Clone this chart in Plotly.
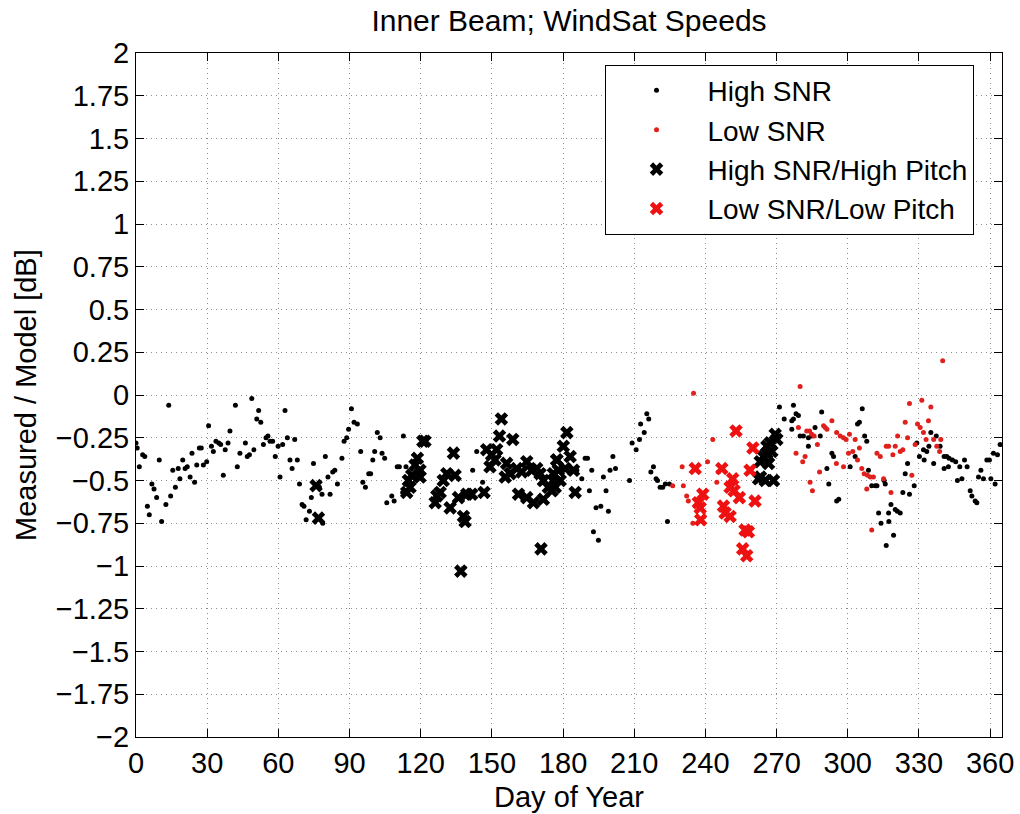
import plotly.graph_objects as go

# ---------------- data ----------------
hs_day = [0, 0.5, 1.4, 2.8, 3.7, 4.8, 5.6, 6.7, 7.6, 8.7, 9.8, 10.8, 12.6, 13.8, 14.6, 15.5, 16.6, 17.8,
          18.5, 19.7, 20.7, 21.6, 22.8, 23.6, 24.7, 25.6, 26.7, 27.5, 28.4, 29.8, 30.6, 31.8, 32.6, 33.7,
          34.9, 35.7, 36.8, 37.6, 38.8, 39.6, 41.9, 42.7, 43.8, 46.1, 46.9, 47.8, 48.8, 49.7, 50.9, 51.7,
          52.6, 53.7, 54.8, 55.6, 56.5, 57.6, 58.7, 59.9, 60.7, 61.8, 62.8, 63.8, 64.9, 65.8, 66.9, 68,
          68.9, 70, 70.8, 71.7, 73.1, 73.9, 74.8, 77.3, 78.4, 78.7, 79.8, 80.9, 81.8, 82.9, 83.8, 84.9,
          86.8, 87.7, 88.8, 89.6, 90.8, 91.9, 93.3, 94.7, 95.6, 96.7, 98.1, 98.9, 99.8, 100.6, 101.7,
          102.9, 103.7, 104.8, 105.7, 107.8, 108.8, 110.1, 111, 112.4, 112.7, 113.8, 141.9, 146.1, 143.6,
          185.8, 187.9, 189.3, 190.3, 191.1, 192.1, 193.9, 195.9, 192.8, 194.9, 197, 198.1, 199.1, 199.8,
          201, 202.1, 208, 209.1, 210.8, 212.2, 212.7, 214.2, 215.3, 216.1, 217, 218.1, 219.2, 219.8,
          220.9, 222, 223.1, 224.8, 224,
          271.2, 273.2, 276.4, 277.1, 278.2, 279.2, 277.1, 276.4, 279.9, 281.3, 283.4, 284.8, 286.2,
          288.4, 283.4, 289, 293.3, 294, 291.2, 292, 295.3, 296.2, 301, 303.1, 304.1, 304.9, 306.1,
          307.1, 308, 308.7, 310.1, 311.6, 312.3, 315.3, 315.8, 313, 317.2, 314, 317.3, 319.3, 316.2,
          318.2, 320, 320.9, 322.1, 323.2, 326, 324.2, 325.2, 328, 329.1, 330.2, 331.9, 332.2, 333.3,
          334.2, 335, 336.2, 337.3, 338.9, 340.6, 341.7, 342.7, 344.1, 345.5, 340.6, 342.4, 347.2,
          349.2, 350.3, 346.2, 348.1, 351.6, 352.3, 353.7, 354.4, 355.1, 356.1, 357.2, 358.6, 359.7,
          360.3, 362.1, 361.4, 363.1, 364.2]
hs_val = [-0.28, -0.31, -0.42, -0.35, -0.36, -0.65, -0.70, -0.52, -0.55, -0.60, -0.38, -0.74, -0.64,
          -0.06, -0.59, -0.44, -0.54, -0.43, -0.49, -0.38, -0.43, -0.42, -0.48, -0.34, -0.51, -0.41,
          -0.31, -0.31, -0.41, -0.39, -0.18, -0.30, -0.33, -0.27, -0.28, -0.29, -0.47, -0.32, -0.28,
          -0.21, -0.06, -0.42, -0.34, -0.28, -0.36, -0.35, -0.02, -0.32, -0.14, -0.09, -0.16, -0.29,
          -0.25, -0.24, -0.27, -0.27, -0.36, -0.30, -0.48, -0.29, -0.09, -0.25, -0.38, -0.43, -0.26,
          -0.38, -0.52, -0.64, -0.65, -0.73, -0.68, -0.60, -0.40, -0.54, -0.58, -0.75, -0.36, -0.48,
          -0.58, -0.45, -0.44, -0.52, -0.37, -0.27, -0.25, -0.20, -0.08, -0.16, -0.17, -0.33, -0.51,
          -0.54, -0.46, -0.46, -0.38, -0.33, -0.22, -0.25, -0.34, -0.37, -0.63, -0.59, -0.62, -0.42,
          -0.42, -0.57, -0.24, -0.42, -0.44, -0.51, -0.33,
          -0.44, -0.49, -0.37, -0.37, -0.56, -0.44, -0.66, -0.65, -0.80, -0.85, -0.48, -0.56, -0.68,
          -0.44, -0.36, -0.43, -0.50, -0.28, -0.32, -0.26, -0.17, -0.22, -0.11, -0.14, -0.45, -0.42,
          -0.49, -0.50, -0.54, -0.54, -0.52, -0.52, -0.74,
          -0.07, -0.14, -0.15, -0.14, -0.11, -0.12, -0.06, -0.20, -0.24, -0.24, -0.25, -0.24, -0.19,
          -0.24, -0.30, -0.10, -0.34, -0.36, -0.43, -0.52, -0.62, -0.61, -0.42, -0.36, -0.17, -0.16,
          -0.08, -0.24, -0.27, -0.44, -0.53, -0.53, -0.53, -0.50, -0.52, -0.69, -0.69, -0.75, -0.74,
          -0.82, -0.88, -0.64, -0.67, -0.68, -0.69, -0.57, -0.58, -0.46, -0.40, -0.53, -0.28, -0.36,
          -0.32, -0.38, -0.33, -0.30, -0.22, -0.40, -0.24, -0.30, -0.36, -0.36, -0.37, -0.38, -0.39,
          -0.43, -0.42, -0.42, -0.38, -0.42, -0.50, -0.49, -0.56, -0.59, -0.62, -0.63, -0.48, -0.44,
          -0.49, -0.38, -0.38, -0.49, -0.52, -0.34, -0.35, -0.29]

ls_day = [235, 226.2, 230.7, 230.2, 232.1, 232.8, 234.7, 240.9, 243.1, 244.8, 245.5, 279.9, 278.2, 281,
          282, 279.2, 282.7, 283.9, 284.8, 285.8, 287.2, 284.1, 285.1, 288.1, 289.8, 290.5, 291.2,
          293.3, 295.2, 295.3, 296.8, 298.2, 299.3, 298.2, 300.7, 300.3, 302.1, 303.1, 304.9, 304.1,
          305.9, 306.9, 308.3, 309.5, 310.8, 308, 310.1, 312.3, 313.7, 315.1, 316.2, 317.2, 319, 320,
          322.1, 323.2, 318.2, 321, 325.2, 324.2, 326, 327, 328.4, 329.4, 330.5, 331.2, 331.9, 333,
          334, 335, 336.2, 337.5, 338.7, 339.2, 340]
ls_val = [0.01, -0.53, -0.53, -0.42, -0.59, -0.62, -0.75, -0.39, -0.26, -0.51, -0.45, 0.05, -0.34, -0.39,
          -0.36, -0.19, -0.21, -0.21, -0.23, -0.24, -0.29, -0.51, -0.56, -0.45, -0.18, -0.19, -0.20,
          -0.15, -0.40, -0.22, -0.24, -0.25, -0.26, -0.42, -0.23, -0.34, -0.33, -0.26, -0.31, -0.38,
          -0.43, -0.46, -0.47, -0.48, -0.48, -0.55, -0.79, -0.34, -0.36, -0.49, -0.30, -0.30, -0.35,
          -0.30, -0.33, -0.32, -0.57, -0.24, -0.25, -0.16, -0.05, -0.47, -0.29, -0.17, -0.19, -0.03,
          -0.22, -0.26, -0.15, -0.07, -0.26, -0.30, -0.33, -0.26, 0.20]

hx_day = [75.9, 76.9, 120.9, 121.8, 118.6, 117.6, 119.7, 116.2, 114.8, 115.5, 114.1, 119.7, 133.8, 131,
          134.5, 129.5, 128.2, 126.8, 126.1, 132.4, 135.9, 139.4, 141.5, 138, 138.7, 136.9, 146.7,
          154, 153.2, 158.8, 147.8, 149.9, 151.3, 149.2, 152, 156.2, 157.7, 155.6, 160.5, 162.6,
          164.7, 166.8, 168.9, 161.2, 164.7, 167.5, 171.7, 170.3, 171.7, 173.8, 175.9, 177.3, 178,
          170.7, 181.6, 180.1, 183, 177.4, 180.9, 175.9, 184.4, 178.8, 175.3, 176.7, 185.1,
          264.5, 263.1, 265.9, 262.4, 266.6, 269.4, 267.3, 270.1, 265.9, 268, 265.2, 268.7, 263.2]
hx_val = [-0.53, -0.72, -0.27, -0.27, -0.37, -0.41, -0.44, -0.47, -0.50, -0.54, -0.57, -0.48, -0.34,
          -0.46, -0.47, -0.50, -0.57, -0.59, -0.63, -0.66, -0.60, -0.58, -0.58, -0.71, -0.74, -1.03,
          -0.57, -0.14, -0.24, -0.26, -0.32, -0.35, -0.38, -0.42, -0.32, -0.40, -0.46, -0.48, -0.43,
          -0.45, -0.39, -0.44, -0.43, -0.58, -0.60, -0.63, -0.61, -0.46, -0.50, -0.54, -0.50, -0.38,
          -0.44, -0.90, -0.22, -0.30, -0.36, -0.38, -0.43, -0.46, -0.44, -0.50, -0.56, -0.54, -0.57,
          -0.36, -0.39, -0.30, -0.49, -0.40, -0.23, -0.28, -0.26, -0.34, -0.33, -0.50, -0.50, -0.48]

lx_day = [235.7, 238.9, 237, 237.8, 238, 246.9, 251.5, 250.4, 252.1, 247.6, 248.3, 250.4, 254.3, 252.9,
          256.7, 258.1, 255.7, 257.4, 260.9, 258.8, 260]
lx_val = [-0.43, -0.58, -0.63, -0.66, -0.73, -0.43, -0.49, -0.54, -0.56, -0.65, -0.69, -0.71, -0.60,
          -0.21, -0.79, -0.80, -0.90, -0.94, -0.62, -0.44, -0.31]

x_ticks = [0, 30, 60, 90, 120, 150, 180, 210, 240, 270, 300, 330, 360]
y_ticks = [2, 1.75, 1.5, 1.25, 1, 0.75, 0.5, 0.25, 0, -0.25, -0.5, -0.75, -1, -1.25, -1.5, -1.75, -2]
y_tick_text = ["2", "1.75", "1.5", "1.25", "1", "0.75", "0.5", "0.25", "0", "\u22120.25", "\u22120.5",
               "\u22120.75", "\u22121", "\u22121.25", "\u22121.5", "\u22121.75", "\u22122"]

# ---------------- figure ----------------
FONT = "Liberation Sans, Arial, Helvetica, sans-serif"
FS = 29
fig = go.Figure()
fig.add_trace(go.Scatter(x=hs_day, y=hs_val, mode="markers", name="High SNR",
                         marker=dict(symbol="circle", size=5, color="black")))
fig.add_trace(go.Scatter(x=ls_day, y=ls_val, mode="markers", name="Low SNR",
                         marker=dict(symbol="circle", size=5, color="#e0201c")))
fig.add_trace(go.Scatter(x=hx_day, y=hx_val, mode="markers", name="High SNR/High Pitch",
                         marker=dict(symbol="x", size=12, color="black", line=dict(width=0))))
fig.add_trace(go.Scatter(x=lx_day, y=lx_val, mode="markers", name="Low SNR/Low Pitch",
                         marker=dict(symbol="x", size=12, color="#ee1111", line=dict(width=0))))

axis_common = dict(showline=True, linecolor="black", linewidth=1, mirror="ticks",
                   ticks="inside", ticklen=8, tickcolor="black", tickwidth=1,
                   showgrid=True, gridcolor="#8c8c8c", griddash="1px,4px", gridwidth=1,
                   zeroline=False, tickfont=dict(family=FONT, size=FS, color="black"))

fig.update_xaxes(range=[0, 365], tickvals=x_ticks, ticktext=[str(t) for t in x_ticks], **axis_common)
fig.update_yaxes(range=[-2, 2], tickvals=y_ticks, ticktext=y_tick_text, **axis_common)

fig.update_layout(
    width=1020, height=814,
    margin=dict(l=136, r=18, t=53, b=77, autoexpand=False),
    plot_bgcolor="white", paper_bgcolor="white",
    title=dict(text="Inner Beam; WindSat Speeds", x=0.5, xref="paper", xanchor="center",
               y=1 - 20 / 814, yref="container", yanchor="middle",
               font=dict(family=FONT, size=FS + 1, color="black")),
    showlegend=True,
    legend=dict(x=0.541, y=0.983, xanchor="left", yanchor="top", bgcolor="white",
                bordercolor="black", borderwidth=1, itemwidth=92,
                font=dict(family=FONT, size=28, color="black")),
    annotations=[
        dict(text="Day of Year", xref="paper", yref="paper", x=0.5, y=-60 / 684,
             xanchor="center", yanchor="middle", showarrow=False,
             font=dict(family=FONT, size=FS, color="black")),
        dict(text="Measured / Model [dB]", xref="paper", yref="paper", x=-110 / 866, y=0.5,
             xanchor="center", yanchor="middle", textangle=-90, showarrow=False,
             font=dict(family=FONT, size=FS, color="black")),
    ],
)

fig.write_html("out.html")
